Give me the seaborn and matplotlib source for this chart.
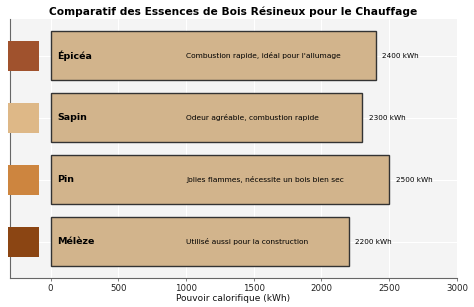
import matplotlib
matplotlib.use("Agg")
import matplotlib.pyplot as plt
import seaborn as sns
import pandas as pd

# Softwood species and their heating value
essences = ["Épicéa", "Sapin", "Pin", "Mélèze"]
pouvoir_kwh = [2400, 2300, 2500, 2200]
descriptions = [
    "Combustion rapide, idéal pour l'allumage",
    "Odeur agréable, combustion rapide",
    "Jolies flammes, nécessite un bois bien sec",
    "Utilisé aussi pour la construction",
]
couleurs_bois = ["#A0522D", "#DEB887", "#CD853F", "#8B4513"]

df = pd.DataFrame({"essence": essences, "kwh": pouvoir_kwh, "desc": descriptions})

sns.set_style("darkgrid", {
    "axes.facecolor": "#f4f4f4",
    "grid.color": "white",
    "axes.edgecolor": "#666666",
    "xtick.bottom": True,
    "text.color": "black",
    "axes.labelcolor": "black",
    "xtick.color": "#333333",
})
plt.rcParams["font.family"] = ["DejaVu Sans"]

fig = plt.figure(figsize=(4.74, 3.07), dpi=100)
ax = fig.add_axes([0.021, 0.094, 0.943, 0.844])

sns.barplot(data=df, x="kwh", y="essence", orient="h", color="#D2B48C",
            saturation=1, edgecolor="#333333", linewidth=1.0, width=0.8, ax=ax)

# colour swatch for each species, left of the bars
sns.scatterplot(x=[-200] * len(essences), y=essences, hue=essences,
                palette=couleurs_bois, marker="s", s=470, linewidth=0,
                legend=False, ax=ax, zorder=3, clip_on=False)

for i, (nom, val, desc) in enumerate(zip(essences, pouvoir_kwh, descriptions)):
    ax.text(50, i, nom, va="center", ha="left", fontsize=6.8,
            fontweight="bold", color="black")
    ax.text(1000, i, desc, va="center", ha="left", fontsize=5.4, color="black")
    ax.text(val + 50, i, f"{val} kWh", va="center", ha="left", fontsize=5.2,
            color="black")

ax.set_xlim(-300, 3000)
ax.set_xticks([0, 500, 1000, 1500, 2000, 2500, 3000])
ax.set_yticks(range(len(essences)))
ax.set_yticklabels([])
ax.tick_params(axis="y", length=0)
ax.tick_params(axis="x", labelsize=6.2, length=2, width=0.6, color="#666666",
               labelcolor="#222222", pad=2)
ax.set_ylabel("")
ax.set_xlabel("Pouvoir calorifique (kWh)", fontsize=6.5, labelpad=1, color="#111111")
ax.set_title("Comparatif des Essences de Bois Résineux pour le Chauffage",
             fontsize=7.7, fontweight="bold", pad=3, color="black")

for side in ["top", "right"]:
    ax.spines[side].set_visible(False)
for side in ["left", "bottom"]:
    ax.spines[side].set_visible(True)
    ax.spines[side].set_color("#666666")
    ax.spines[side].set_linewidth(0.8)
ax.grid(True, color="white", linewidth=0.8)
ax.set_axisbelow(True)

fig.savefig("out.png", dpi=100)
